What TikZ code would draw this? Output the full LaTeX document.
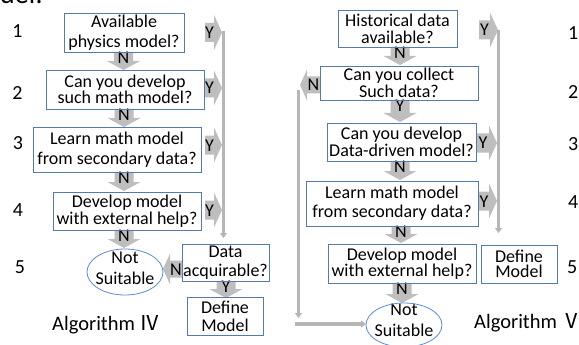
\documentclass[tikz,border=0pt]{standalone}
\usepackage{fontspec}
\setmainfont{Carlito}
\newfontfamily\cjkfont{Noto Sans CJK JP}
\usetikzlibrary{arrows.meta}

\definecolor{boxblue}{RGB}{84,122,176}
\definecolor{ellblue}{RGB}{96,138,214}
\definecolor{blkgray}{RGB}{190,190,190}
\definecolor{linegray}{RGB}{182,182,182}

\tikzset{
  qbox/.style={draw=boxblue, line width=0.8pt, align=center, inner sep=0pt, font=\fontsize{18}{#1}\selectfont},
  qbox/.default=17,
  etext/.style={align=center, inner sep=0pt, font=\fontsize{18}{21}\selectfont},
  ering/.style={draw=ellblue, line width=0.8pt},
  blklbl/.style={inner sep=0pt, font=\fontsize{18}{18}\selectfont},
  blkfill/.style={fill=blkgray},
  gline/.style={draw=linegray, line width=3pt, -{Triangle[width=7pt,length=5pt]}},
  numlbl/.style={inner sep=0pt, font=\fontsize{20}{20}\selectfont},
  algo/.style={inner sep=0pt, anchor=base west, font=\fontsize{20.5}{20.5}\selectfont},
}

\newcommand{\blkdown}[5]{%
  \fill[blkfill] ({#2-9.5},{#3}) -- ({#2+9.5},{#3}) -- ({#2+9.5},{#4-9}) -- ({#2+16.5},{#4-9}) -- ({#2},{#4}) -- ({#2-16.5},{#4-9}) -- ({#2-9.5},{#4-9}) -- cycle;
  \node[blklbl, anchor=base] (#1) at ({#2},{#3+11.5}) {#5};
}
\newcommand{\blkright}[5]{%
  \fill[blkfill] ({#2},{#4-9.5}) -- ({#3-8},{#4-9.5}) -- ({#3-8},{#4-17.5}) -- ({#3},{#4}) -- ({#3-8},{#4+17.5}) -- ({#3-8},{#4+9.5}) -- ({#2},{#4+9.5}) -- cycle;
  \node[blklbl, anchor=base] (#1) at ({(#2+#3-8)/2},{#4+6}) {#5};
}
\newcommand{\blkleft}[5]{%
  \fill[blkfill] ({#2},{#4-8.5}) -- ({#3+7},{#4-8.5}) -- ({#3+7},{#4-15.5}) -- ({#3},{#4}) -- ({#3+7},{#4+15.5}) -- ({#3+7},{#4+8.5}) -- ({#2},{#4+8.5}) -- cycle;
  \node[blklbl, anchor=base] (#1) at ({(#2+#3+7)/2},{#4+6}) {#5};
}

\begin{document}
\begin{tikzpicture}[x=1pt,y=-1pt]
\useasboundingbox (0,0) rectangle (579,345);
\clip (0,0) rectangle (579,345);
\fill[white] (0,0) rectangle (579,345);

% cut-off heading
\node[inner sep=0pt, anchor=base west, font=\fontsize{28}{28}\selectfont] (hdr) at (0,3.5) {del:};

% row numbers
\node[numlbl] (l1) at (17.5,31) {1};
\node[numlbl] (l2) at (17.5,93) {2};
\node[numlbl] (l3) at (18,143) {3};
\node[numlbl] (l4) at (18,210) {4};
\node[numlbl] (l5) at (20,267) {5};
\node[numlbl, anchor=west] (r1) at (568,33) {1};
\node[numlbl, anchor=west] (r2) at (568,92) {2};
\node[numlbl, anchor=west] (r3) at (568,144) {3};
\node[numlbl, anchor=west] (r4) at (568,202) {4};
\node[numlbl, anchor=west] (r5) at (567,267) {5};

% ---------- Algorithm IV ----------
\blkdown{n12}{123.5}{52}{70}{N}
\blkdown{n23}{124}{109}{127}{N}
\blkdown{n34}{124}{172}{191}{N}
\blkdown{n45}{124}{230}{248}{N}
\blkright{y1}{205}{222}{32.5}{Y}
\blkright{y2}{205}{222}{88}{Y}
\blkright{y3}{205}{222}{145}{Y}
\blkright{y4}{205}{222}{210}{Y}
\blkleft{nda}{182}{163}{269}{N}
\blkdown{yda}{226}{281}{298}{Y}

\node[qbox=20, minimum width=120pt, minimum height=39pt] (b1) at (124,32.5) {Available\\physics model?};
\node[qbox=16, minimum width=158pt, minimum height=39pt] (b2) at (125,89.5) {Can you develop\\such math model?};
\node[qbox=20, minimum width=168pt, minimum height=45pt] (b3) at (117,149.5) {Learn math model\\from secondary data?};
\node[qbox=16.7, minimum width=148pt, minimum height=38pt] (b4) at (127,211) {Develop model\\with external help?};
\node[qbox=19, minimum width=87pt, minimum height=37pt] (dq) at (225.5,262.5) {Data\\acquirable?};
\node[qbox=18.3, minimum width=76pt, minimum height=38pt] (dml) at (225,316) {Define\\Model};
\node[etext] (sl) at (125,268) {Not\\Suitable};
\draw[ering] ([yshift=-4pt]sl.center) ellipse [x radius=38, y radius=23];

\coordinate (lvtop) at (223.5,31);
\coordinate (lvend) at (223.5,238);
\draw[gline] (lvtop) -- (lvend);

\node[algo] (alg4) at (52,330) {Algorithm {\cjkfont Ⅳ}};

% ---------- Algorithm V ----------
\blkdown{nhc}{400}{47}{65}{N}
\blkdown{ycd}{400}{100}{122}{Y}
\blkdown{ndl}{400}{161}{180}{N}
\blkdown{nle}{401}{226}{243}{N}
\blkdown{nes}{402}{283}{303}{N}
\blkright{yh}{479}{498}{30}{Y}
\blkright{yd}{477}{497}{143}{Y}
\blkright{yl}{479}{497}{201}{Y}
\blkleft{nc}{320}{300}{85}{N}

\node[qbox=17.3, minimum width=119pt, minimum height=37pt] (h) at (397.5,28.5) {Historical data\\available?};
\node[qbox=15, minimum width=158pt, minimum height=34pt] (c) at (399,83) {Can you collect\\Such data?};
\node[qbox=15, minimum width=149pt, minimum height=38pt] (d) at (401.5,142) {Can you develop\\Data-driven model?};
\node[qbox=18.7, minimum width=172pt, minimum height=45pt] (l) at (392,203.5) {Learn math model\\from secondary data?};
\node[qbox=15.7, minimum width=148pt, minimum height=39pt] (e) at (402,263.5) {Develop model\\with external help?};
\node[qbox=15, minimum width=76pt, minimum height=38pt] (dmr) at (519,264) {Define\\Model};
\node[etext] (sr) at (404,320) {Not\\Suitable};
\draw[ering] ([yshift=-5pt]sr.center) ellipse [x radius=38, y radius=22];

\coordinate (rvtop) at (498.5,30);
\coordinate (rvend) at (498.5,233);
\draw[gline] (rvtop) -- (rvend);

\coordinate (nvtop) at (298.5,90);
\coordinate (nvend) at (298.5,318);
\draw[gline] (nvtop) -- (nvend);
\coordinate (hbstart) at (295,324);
\coordinate (hbend) at (366,324);
\draw[gline, line width=3.5pt] (hbstart) -- (hbend);

\node[algo] (alg5) at (474,328) {Algorithm {\cjkfont Ⅴ}};
\end{tikzpicture}
\end{document}
